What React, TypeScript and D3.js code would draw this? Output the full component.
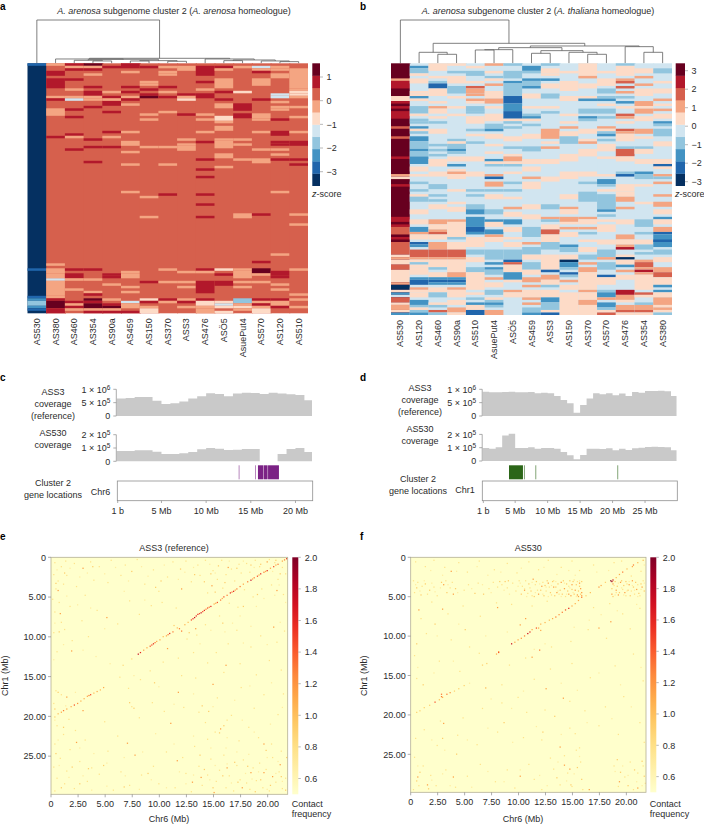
import { area, curveStepAfter, interpolateYlOrRd, range, scaleBand, scaleLinear, scaleSequential } from 'd3'

const font = '"Liberation Sans", Arial, sans-serif'
const ink = '#2b2b2b'
const axisGrey = '#8a8a8a'

// 10 step RdBu palette, index 0 is the darkest blue
const levels = ['#053061', '#2166ac', '#4393c3', '#92c5de', '#d1e5f0', '#fddbc7', '#f4a582', '#d6604d', '#b2182b', '#67001f']

const samplesA = ['AS530', 'AS380', 'AS460', 'AS354', 'AS90a', 'AS459', 'AS150', 'AS370', 'ASS3', 'AS476', 'ASÖ5', 'AsuePut4', 'AS570', 'AS120', 'AS510']
const samplesB = ['AS530', 'AS120', 'AS460', 'AS90a', 'AS510', 'AsuePut4', 'ASÖ5', 'AS459', 'ASS3', 'AS150', 'AS370', 'AS570', 'AS476', 'AS354', 'AS380']

const ROWS = 100

// [first row, row count, level] on top of the column base level
const baseA = [0, 7, 7, 7, 7, 7, 7, 7, 7, 7, 7, 7, 7, 7, 7]
const heatA: number[][][] = [
  [[0, 1, 1], [82, 1, 1], [93, 1, 1], [94, 1, 2], [95, 2, 3], [97, 1, 2], [98, 1, 1]],
  [[0, 1, 6], [3, 2, 8], [6, 4, 8], [13, 1, 6], [14, 1, 8], [18, 3, 6], [29, 1, 8], [80, 1, 6], [82, 2, 6], [84, 2, 6], [86, 1, 4], [87, 6, 6], [93, 1, 6], [94, 1, 8], [95, 3, 9], [98, 2, 8]],
  [[0, 1, 8], [1, 1, 6], [2, 1, 8], [6, 1, 8], [10, 1, 6], [13, 1, 6], [14, 1, 4], [18, 1, 8], [21, 1, 8], [28, 1, 8], [29, 1, 6], [34, 1, 8], [82, 1, 8], [84, 2, 8], [86, 1, 6], [90, 1, 6], [95, 1, 8], [96, 1, 6], [97, 1, 8], [98, 1, 6]],
  [[0, 1, 9], [1, 1, 6], [2, 1, 8], [4, 1, 6], [9, 1, 8], [11, 2, 8], [13, 1, 6], [14, 1, 6], [17, 1, 8], [30, 1, 8], [33, 1, 8], [39, 1, 8], [82, 1, 8], [86, 1, 6], [91, 1, 6], [92, 1, 8], [94, 1, 9], [95, 1, 8], [96, 2, 9], [98, 1, 6], [99, 1, 8]],
  [[1, 1, 8], [11, 1, 6], [13, 1, 8], [15, 2, 8], [14, 1, 6], [19, 1, 8], [27, 1, 8], [29, 1, 6], [33, 1, 8], [84, 1, 8], [85, 1, 8], [88, 1, 6], [94, 1, 6], [96, 1, 8], [97, 1, 9], [98, 1, 6], [99, 1, 8]],
  [[0, 2, 8], [3, 1, 6], [9, 1, 8], [11, 1, 8], [13, 1, 6], [14, 1, 8], [16, 1, 6], [27, 1, 6], [31, 2, 6], [35, 1, 6], [40, 1, 6], [51, 1, 6], [83, 1, 6], [84, 2, 6], [89, 1, 6], [91, 1, 6], [95, 1, 4], [96, 2, 6], [99, 1, 8]],
  [[1, 1, 8], [7, 1, 6], [8, 1, 6], [10, 1, 8], [12, 1, 8], [13, 1, 9], [20, 1, 6], [22, 1, 6], [33, 1, 6], [53, 1, 6], [61, 1, 6], [87, 1, 8], [94, 1, 5], [95, 1, 8], [97, 1, 6], [98, 2, 5]],
  [[1, 1, 6], [3, 1, 6], [4, 1, 6], [9, 1, 8], [11, 1, 6], [13, 1, 8], [19, 1, 6], [33, 1, 6], [40, 1, 6], [52, 1, 8], [82, 1, 6], [87, 1, 6], [94, 1, 8], [95, 1, 6]],
  [[1, 2, 6], [12, 1, 8], [13, 1, 6], [14, 1, 5], [20, 1, 8], [30, 1, 6], [32, 1, 6], [33, 2, 6], [83, 1, 6], [87, 1, 6], [89, 1, 6], [94, 1, 6], [95, 1, 8], [97, 1, 6]],
  [[1, 4, 8], [7, 1, 8], [10, 1, 6], [12, 2, 8], [20, 1, 6], [22, 1, 6], [27, 1, 6], [31, 1, 8], [38, 1, 8], [42, 1, 8], [45, 1, 8], [52, 1, 8], [56, 1, 8], [61, 1, 8], [82, 1, 8], [83, 1, 6], [87, 5, 8], [94, 1, 8], [95, 2, 5], [97, 1, 6], [98, 2, 6]],
  [[1, 1, 8], [2, 1, 6], [6, 4, 6], [11, 1, 8], [14, 1, 8], [16, 2, 6], [21, 2, 5], [23, 1, 6], [25, 2, 6], [30, 1, 6], [31, 3, 6], [36, 2, 6], [41, 1, 6], [82, 1, 5], [84, 1, 8], [87, 2, 8], [95, 1, 5], [96, 1, 4], [97, 1, 5], [99, 1, 5]],
  [[1, 1, 6], [11, 1, 5], [16, 3, 8], [20, 2, 8], [30, 1, 6], [32, 1, 6], [38, 1, 6], [60, 2, 6], [82, 1, 6], [83, 3, 6], [87, 1, 6], [89, 1, 6], [94, 2, 3], [96, 1, 6], [97, 1, 5], [98, 1, 6]],
  [[1, 1, 4], [2, 1, 6], [3, 1, 8], [6, 3, 6], [14, 1, 8], [20, 2, 6], [22, 1, 6], [27, 1, 6], [34, 1, 6], [38, 2, 6], [60, 1, 8], [79, 1, 8], [82, 2, 9], [84, 1, 6], [87, 1, 6], [94, 1, 8], [95, 1, 6], [96, 1, 8], [97, 1, 6], [98, 2, 5]],
  [[1, 1, 6], [2, 1, 6], [4, 2, 6], [12, 1, 4], [13, 1, 4], [15, 1, 6], [17, 1, 6], [18, 1, 6], [22, 1, 8], [27, 2, 8], [31, 1, 8], [32, 1, 8], [34, 1, 6], [36, 1, 6], [38, 1, 8], [51, 1, 6], [76, 1, 6], [83, 2, 8], [85, 1, 8], [88, 1, 6], [90, 1, 6], [94, 1, 8], [95, 2, 6], [97, 1, 8]],
  [[2, 8, 6], [10, 1, 6], [11, 1, 5], [12, 1, 5], [13, 1, 6], [17, 1, 6], [21, 1, 6], [27, 1, 6], [31, 2, 8], [38, 1, 8], [40, 1, 8], [60, 1, 6], [64, 1, 6], [82, 1, 6], [92, 1, 6], [94, 1, 6], [97, 1, 6]],
]

const baseB = [9, 4, 4, 4, 4, 4, 4, 4, 4, 4, 4, 4, 4, 4, 4]
const heatB: number[][][] = [
  [[6, 1, 6], [7, 3, 8], [13, 2, 5], [15, 1, 8], [17, 1, 8], [19, 3, 8], [25, 1, 7], [29, 1, 7], [37, 1, 8], [44, 1, 6], [45, 1, 5], [48, 1, 8], [61, 2, 8], [64, 1, 8], [65, 3, 7], [69, 1, 8], [71, 5, 7], [76, 1, 5], [77, 1, 6], [78, 2, 5], [80, 2, 7], [82, 5, 5], [87, 1, 6], [88, 2, 0], [90, 1, 5], [91, 1, 2], [92, 1, 4], [93, 2, 7], [95, 1, 5], [96, 2, 6], [98, 1, 5], [99, 1, 2]],
  [[1, 1, 2], [2, 2, 3], [4, 1, 5], [6, 2, 5], [11, 1, 5], [12, 1, 5], [13, 1, 2], [14, 1, 5], [17, 3, 3], [20, 1, 5], [22, 1, 3], [23, 1, 3], [25, 1, 2], [26, 1, 5], [27, 1, 3], [29, 2, 2], [31, 3, 3], [34, 1, 2], [35, 2, 3], [37, 3, 2], [41, 2, 5], [44, 1, 5], [47, 1, 3], [50, 1, 3], [52, 1, 5], [53, 2, 3], [58, 2, 5], [62, 2, 5], [65, 2, 2], [67, 1, 6], [68, 2, 5], [71, 1, 1], [72, 1, 2], [74, 3, 7], [77, 1, 6], [78, 1, 5], [79, 1, 3], [80, 1, 5], [81, 3, 5], [85, 1, 2], [86, 2, 1], [89, 1, 6], [90, 1, 5], [91, 2, 5], [94, 2, 2], [96, 1, 3], [97, 1, 5], [98, 1, 3], [99, 1, 2]],
  [[0, 3, 5], [5, 1, 5], [7, 1, 3], [8, 2, 1], [10, 3, 5], [15, 1, 5], [17, 1, 6], [18, 2, 5], [21, 1, 5], [23, 1, 3], [26, 2, 5], [32, 1, 3], [34, 1, 3], [36, 1, 3], [38, 3, 5], [43, 2, 5], [48, 2, 3], [52, 1, 3], [54, 1, 3], [56, 2, 5], [62, 2, 6], [64, 2, 5], [66, 1, 6], [67, 1, 7], [68, 2, 5], [71, 3, 6], [74, 3, 7], [77, 1, 6], [78, 3, 5], [81, 1, 3], [83, 2, 5], [85, 1, 2], [86, 1, 1], [87, 1, 2], [89, 2, 5], [91, 2, 3], [95, 1, 5], [96, 1, 3], [98, 1, 7], [99, 1, 3]],
  [[0, 1, 5], [3, 1, 3], [5, 3, 5], [9, 3, 3], [13, 1, 5], [17, 1, 5], [20, 1, 5], [30, 1, 3], [31, 1, 5], [32, 2, 3], [34, 1, 2], [35, 1, 3], [37, 2, 5], [40, 1, 2], [42, 1, 5], [43, 1, 6], [44, 2, 5], [50, 1, 5], [55, 1, 5], [57, 2, 5], [62, 1, 6], [63, 6, 5], [69, 1, 3], [71, 3, 5], [74, 3, 7], [77, 1, 6], [78, 5, 5], [83, 2, 6], [85, 1, 2], [86, 1, 1], [87, 1, 2], [89, 1, 6], [90, 3, 5], [94, 2, 5], [97, 2, 6], [99, 1, 5]],
  [[1, 1, 5], [3, 2, 3], [7, 1, 5], [9, 1, 7], [10, 2, 6], [12, 1, 6], [14, 1, 6], [15, 1, 5], [17, 2, 3], [19, 1, 3], [21, 3, 5], [26, 1, 3], [28, 1, 5], [31, 1, 3], [37, 2, 5], [43, 2, 5], [50, 1, 3], [52, 1, 3], [56, 2, 3], [58, 2, 2], [61, 4, 2], [65, 2, 1], [67, 1, 2], [69, 4, 5], [74, 2, 3], [77, 2, 5], [81, 2, 3], [83, 7, 5], [91, 1, 5], [93, 1, 3], [95, 1, 2], [96, 2, 5], [98, 2, 1]],
  [[0, 1, 6], [3, 1, 5], [5, 1, 3], [6, 1, 5], [8, 1, 6], [11, 3, 5], [14, 2, 6], [17, 1, 5], [20, 3, 5], [24, 2, 3], [26, 1, 2], [28, 2, 5], [32, 1, 5], [35, 1, 5], [38, 1, 2], [39, 1, 5], [40, 1, 3], [44, 1, 6], [45, 1, 1], [47, 2, 6], [50, 1, 3], [52, 2, 5], [58, 2, 3], [62, 1, 2], [63, 2, 5], [66, 2, 2], [68, 1, 6], [69, 2, 5], [74, 4, 3], [79, 1, 2], [81, 1, 2], [82, 2, 3], [85, 1, 6], [87, 2, 5], [90, 2, 3], [93, 1, 5], [94, 1, 3], [95, 1, 2], [96, 1, 3], [98, 2, 6]],
  [[0, 1, 3], [3, 3, 3], [7, 1, 2], [8, 3, 3], [11, 2, 3], [13, 3, 1], [16, 3, 2], [19, 3, 1], [22, 1, 5], [23, 1, 3], [25, 1, 3], [29, 2, 5], [33, 1, 3], [36, 1, 5], [37, 2, 6], [39, 1, 5], [40, 1, 3], [43, 1, 5], [47, 1, 3], [50, 1, 3], [53, 1, 5], [57, 1, 6], [59, 2, 5], [62, 2, 2], [65, 2, 5], [69, 1, 5], [71, 2, 5], [74, 4, 3], [78, 1, 1], [79, 1, 7], [80, 3, 5], [83, 3, 2], [86, 1, 5], [90, 1, 6], [91, 2, 5]],
  [[1, 2, 2], [3, 1, 3], [6, 1, 2], [7, 2, 3], [9, 1, 2], [12, 2, 5], [17, 1, 5], [20, 1, 3], [21, 1, 2], [22, 1, 5], [24, 1, 3], [28, 2, 5], [33, 2, 3], [38, 2, 5], [41, 2, 5], [45, 1, 6], [47, 3, 5], [56, 2, 5], [60, 2, 5], [65, 4, 3], [71, 1, 6], [73, 3, 3], [76, 2, 5], [79, 3, 3], [82, 2, 5], [85, 2, 6], [88, 1, 6], [90, 3, 5], [93, 1, 6], [95, 1, 6], [97, 2, 3], [99, 1, 2]],
  [[0, 1, 3], [2, 2, 5], [4, 1, 5], [6, 1, 2], [8, 2, 5], [12, 2, 3], [17, 1, 5], [19, 1, 3], [26, 4, 6], [31, 1, 5], [33, 1, 6], [38, 2, 5], [45, 2, 5], [56, 2, 3], [61, 1, 6], [62, 1, 3], [64, 2, 5], [66, 2, 7], [68, 3, 5], [71, 3, 3], [76, 6, 5], [82, 1, 1], [84, 2, 6], [86, 2, 5], [88, 1, 3], [90, 3, 5], [93, 2, 2], [95, 3, 3], [98, 1, 5], [99, 1, 1]],
  [[3, 1, 5], [7, 4, 5], [13, 2, 5], [20, 1, 5], [23, 1, 5], [25, 1, 6], [27, 2, 5], [29, 3, 3], [36, 3, 5], [43, 3, 5], [52, 2, 5], [57, 1, 6], [58, 2, 5], [61, 2, 6], [63, 1, 5], [65, 1, 6], [67, 2, 5], [72, 1, 2], [73, 2, 3], [76, 2, 5], [78, 1, 0], [79, 2, 2], [81, 1, 3], [83, 1, 1], [84, 1, 3], [86, 1, 6], [88, 2, 5], [91, 9, 5]],
  [[0, 5, 5], [5, 1, 6], [8, 2, 5], [13, 1, 5], [14, 1, 2], [18, 2, 3], [21, 1, 2], [22, 1, 3], [26, 2, 5], [30, 1, 5], [31, 1, 6], [34, 3, 5], [43, 2, 5], [47, 1, 3], [51, 4, 3], [61, 1, 6], [62, 2, 5], [65, 1, 6], [67, 1, 3], [70, 1, 5], [73, 2, 5], [76, 2, 3], [79, 1, 6], [81, 2, 6], [83, 7, 5], [90, 1, 6], [91, 3, 5], [94, 2, 6], [96, 4, 5]],
  [[3, 1, 5], [6, 3, 5], [10, 2, 3], [13, 1, 3], [14, 1, 2], [16, 1, 5], [18, 2, 3], [21, 1, 3], [25, 1, 6], [26, 1, 5], [27, 1, 3], [28, 1, 2], [30, 1, 3], [32, 3, 5], [37, 1, 5], [44, 1, 5], [46, 2, 2], [48, 1, 3], [50, 1, 5], [52, 6, 3], [58, 1, 2], [60, 1, 3], [62, 1, 5], [64, 3, 5], [70, 2, 5], [74, 3, 3], [77, 1, 6], [79, 3, 3], [84, 1, 1], [85, 3, 5], [90, 1, 3], [91, 2, 2], [93, 1, 6], [95, 2, 2], [97, 1, 3], [98, 1, 5], [99, 1, 7]],
  [[0, 1, 3], [1, 4, 5], [6, 1, 6], [7, 1, 7], [9, 1, 7], [11, 1, 6], [13, 1, 3], [15, 1, 2], [17, 1, 5], [20, 1, 7], [21, 1, 6], [23, 1, 5], [26, 1, 7], [27, 1, 6], [28, 3, 5], [33, 1, 3], [34, 3, 7], [37, 2, 5], [43, 1, 3], [44, 1, 1], [48, 3, 5], [51, 2, 5], [53, 2, 6], [57, 1, 6], [62, 2, 5], [68, 2, 6], [70, 2, 5], [72, 1, 6], [73, 1, 8], [76, 1, 5], [77, 1, 0], [78, 2, 5], [80, 1, 2], [82, 1, 6], [84, 2, 5], [90, 2, 8], [92, 2, 6], [94, 1, 5], [96, 2, 6], [98, 1, 7], [99, 1, 5]],
  [[2, 2, 5], [5, 1, 6], [8, 1, 6], [10, 3, 5], [15, 2, 6], [17, 1, 5], [18, 2, 6], [21, 2, 5], [26, 2, 6], [29, 1, 5], [33, 1, 3], [34, 2, 5], [38, 2, 5], [43, 1, 2], [44, 2, 3], [48, 1, 5], [55, 1, 5], [62, 3, 3], [67, 1, 3], [70, 2, 5], [72, 2, 3], [75, 1, 3], [78, 1, 6], [79, 2, 7], [81, 1, 6], [82, 1, 8], [83, 1, 6], [84, 6, 5], [91, 1, 7], [92, 1, 5], [95, 1, 3], [96, 2, 6], [98, 1, 7], [99, 1, 5]],
  [[2, 2, 3], [7, 1, 5], [10, 2, 5], [14, 1, 6], [16, 1, 5], [18, 1, 6], [20, 2, 5], [23, 1, 2], [24, 1, 3], [26, 3, 3], [31, 2, 5], [38, 3, 5], [40, 1, 1], [41, 1, 5], [44, 1, 6], [45, 1, 3], [47, 1, 6], [52, 1, 6], [55, 2, 6], [58, 2, 5], [61, 1, 2], [62, 2, 5], [65, 2, 6], [67, 1, 1], [68, 3, 2], [70, 1, 1], [71, 2, 2], [74, 2, 3], [77, 2, 5], [81, 2, 6], [83, 2, 7], [85, 3, 5], [88, 1, 2], [90, 1, 2], [91, 2, 5], [93, 3, 6], [96, 1, 5], [97, 1, 6], [98, 1, 5], [99, 1, 3]],
]

// dendrograms: [merge height, left, right], a bare number is a column
type Node = number | [number, Node, Node]
const dendA: Node = [130, 0, [15, [13, 1, [12, [9, 2, [7, 3, 4]], [8, [7, 5, 6], [6, 7, 8]]]], [13, 9, [10, [8, 10, 11], [7, 12, [5, 13, 14]]]]]]
const dendB: Node = [130, 0, [60, [33, 1, [27, 2, 3]], [52, [47, [41, [40, 4, 5], 6], [38, [30, 7, 8], [33, 9, [27, 10, 11]]]], [50, 12, [33, 13, 14]]]]]

const ticksA = [1, 0, -1, -2, -3]
const ticksB = [3, 2, 1, 0, -1, -2, -3]

// coverage per 1 Mb bin, in units of the lower y tick step
const coverageRefC = [0.66, 0.675, 0.71, 0.71, 0.575, 0.45, 0.475, 0.54, 0.66, 0.74, 0.85, 0.825, 0.74, 0.84, 0.875, 0.86, 0.825, 0.875, 0.84, 0.81, 0.79, 0.59]
const coverage530C = [0.775, 0.775, 0.825, 0.825, 0.725, 0.55, 0.55, 0.6, 0.7, 0.9, 1.0, 0.95, 0.85, 0.875, 0.925, 0.925, 0, 0, 0.55, 0.925, 1.0, 0.7]
const coverageRefD = [0.91, 0.89, 0.89, 0.9, 0.91, 0.89, 0.89, 0.9, 0.85, 0.875, 0.85, 0.75, 0.6, 0.475, 0.125, 0.41, 0.66, 0.85, 0.81, 0.85, 0.775, 0.84, 0.75, 0.9, 0.875, 0.94, 0.94, 0.95, 0.925, 0.75]
const coverage530D = [0.975, 0.925, 1.025, 1.925, 2.05, 0.975, 0.975, 1.025, 0.925, 0.975, 0.975, 0.925, 0.675, 0.425, 0.125, 0.45, 0.925, 0.925, 0.9, 0.95, 0.8, 0.925, 0.825, 0.95, 1.0, 1.05, 1.075, 1.05, 1.025, 0.8]

// gene blocks [start Mb, end Mb]
const genesC = [[13.64, 13.74], [15.47, 15.57], [15.8, 16.42], [16.47, 16.88], [16.93, 18.15]]
const genesD = [[4.05, 6.2], [6.35, 6.5], [8.1, 8.25], [20.72, 20.87]]

const mbTicksC = [[0.1, '1 b'], [5, '5 Mb'], [10, '10 Mb'], [15, '15 Mb'], [20, '20 Mb']] as [number, string][]
const mbTicksD = [[0.1, '1 b'], [5, '5 Mb'], [10, '10 Mb'], [15, '15 Mb'], [20, '20 Mb'], [25, '25 Mb']] as [number, string][]

const contactXTicks = [0, 2.5, 5, 7.5, 10, 12.5, 15, 17.5, 20]
const contactYTicks = [0, 5, 10, 15, 20, 25]
const contactBarTicks = [2.0, 1.8, 1.6, 1.4, 1.2, 1.0, 0.8, 0.6]

// contact map e, triples of chr6 Mb, chr1 Mb, frequency
const diagE = [21.7, 0.1, 1.6, 21.5, 0.25, 1.3, 21.3, 0.4, 1.1, 20.9, 0.8, 1.3, 20.7, 0.9, 1.1, 20.5, 1.1, 1.45, 20.2, 1.3, 1.1, 19.9, 1.6, 1.6, 19.75, 1.7, 1.1, 19.6, 1.8, 1.3, 19.3, 2.0, 1.6, 19.15, 2.15, 1.1, 19.0, 2.3, 1.45, 18.7, 2.5, 1.3, 18.55, 2.65, 1.1, 18.4, 2.8, 1.75, 18.1, 3.0, 1.3, 17.7, 3.3, 1.1, 17.4, 3.6, 1.3, 17.1, 3.9, 1.3, 16.95, 4.05, 1.1, 16.8, 4.2, 1.6, 16.65, 4.3, 1.3, 16.5, 4.4, 1.6, 16.2, 4.7, 1.3, 15.9, 4.9, 1.45, 15.75, 5.1, 1.1, 15.6, 5.3, 1.3, 15.3, 5.6, 1.45, 15.15, 5.7, 1.1, 15.0, 5.8, 1.1, 14.7, 6.1, 1.6, 14.55, 6.2, 1.3, 14.4, 6.3, 1.45, 14.25, 6.45, 1.3, 14.1, 6.6, 1.6, 13.95, 6.75, 1.45, 13.8, 6.9, 1.75, 13.65, 7.0, 1.45, 13.5, 7.1, 1.6, 13.35, 7.3, 1.6, 13.2, 7.5, 1.75, 13.05, 7.65, 1.6, 12.9, 7.8, 1.45, 12.6, 8.1, 1.0, 12.3, 8.4, 1.05,
  11.2, 9.3, 1.3, 10.9, 9.5, 1.6, 10.75, 9.65, 1.3, 10.6, 9.8, 1.1, 10.3, 9.9, 1.0, 10.0, 10.3, 1.1, 9.7, 10.5, 1.1, 9.55, 10.65, 1.3, 9.4, 10.8, 1.6, 9.25, 10.95, 1.45, 9.1, 11.1, 1.45, 8.8, 11.3, 1.1, 8.5, 11.6, 1.1, 8.2, 11.9, 1.6, 8.0, 12.1, 1.75, 11.8, 8.9, 1.3, 12.0, 9.2, 1.3, 11.6, 8.8, 1.0, 7.4, 12.7, 0.85, 6.6, 13.5, 0.85,
  4.8, 16.3, 1.1, 4.5, 16.6, 1.0, 4.2, 16.8, 1.1, 3.9, 17.0, 1.0, 3.6, 17.2, 1.45, 3.45, 17.3, 1.3, 3.3, 17.4, 1.1, 3.0, 17.7, 1.05, 2.7, 18.0, 1.05, 2.4, 18.3, 1.2, 2.1, 18.5, 1.45, 1.8, 18.7, 1.05, 1.4, 19.0, 1.1, 1.1, 19.2, 1.3, 0.9, 19.4, 1.1, 0.6, 19.6, 1.0, 0.3, 20.0, 0.9]
const speckDarkE = [2.9, 1.3, 0.6, 4.1, 0.8, 7, 1.85, 11.7, 5.1, 7.5, 12, 3.9, 10.7, 11.4, 14.9, 15.9, 11.7, 16.9, 11, 20.8, 2.3, 23.2, 7, 23.3, 7.7, 24.8, 11.6, 25.5, 15.6, 21.5, 16.2, 26.4, 19.6, 23.4, 21.1, 26, 13, 28.2, 13.8, 27.6, 17.6, 28.9, 19.6, 27, 20.4, 27.5, 18.4, 27, 15, 29.5, 20.5, 8.7, 20.8, 4.1, 13.3, 8.9, 16.1, 13.5, 1.4, 17.5, 2.9, 19.2, 19.9, 0.5, 16.3, 1.2, 14.8, 3.5]
const speckMidE = [1.2, 1.9, 0.4, 3.2, 3.8, 1.1, 0.7, 9.3, 7.4, 1.7, 10.1, 2.9, 11.9, 1.4, 13.2, 2.1, 14.1, 3.0, 15.4, 1.0, 16.0, 3.1, 17.1, 1.3, 18.4, 0.9, 19.3, 0.8, 20.7, 0.3, 21.1, 2.0, 19.0, 4.6, 17.7, 6.1, 15.8, 8.2, 12.7, 9.4, 11.3, 8.5, 9.6, 3.7, 14.7, 2.0, 15.1, 4.3, 0.6, 16.9, 0.3, 19.0, 1.1, 21.3, 0.4, 24.6, 1.9, 26.3, 3.4, 26.5, 0.9, 28.9, 2.6, 28.4, 4.8, 26.1, 6.7, 28.8, 8.9, 27.1, 13.7, 24.8, 14.1, 26.6, 14.9, 28.9, 15.8, 27.4, 16.9, 25.7, 17.2, 28.2, 18.1, 26.2, 18.8, 29.4, 19.3, 27.9, 20.2, 28.6, 21.2, 27.5, 21.6, 29.2, 21.7, 25.1, 19.8, 24.2, 15.5, 22.0, 15.9, 21.1, 14.5, 19.3, 13.9, 18.6, 7.2, 18.2, 7.6, 18.9, 9.5, 15.7]
const speckLightE = [0.3, 0.6, 0.9, 1.1, 0.2, 2.1, 1.3, 0.4, 0.6, 2.9, 1.1, 3.3, 0.4, 3.9, 0.1, 5.2, 0.7, 5.6, 1.4, 2.2, 2.1, 0.7, 3.6, 0.5, 4.4, 1.1, 0.3, 6.8, 0.9, 8.1, 0.2, 9.4, 1.2, 9.0, 1.7, 6.1, 2.3, 3.6, 3.1, 4.7, 3.9, 2.8, 5.5, 0.3, 6.8, 0.9, 7.9, 0.2, 5.2, 3.1, 6.4, 2.2, 4.2, 6.6, 2.8, 7.9, 1.9, 10.4, 0.5, 11.8, 3.4, 9.9, 6.1, 8.3, 7.2, 5.4, 8.6, 3.3, 9.4, 1.5, 9.9, 4.2, 8.1, 7.1, 9.2, 6.0, 10.7, 2.4, 11.2, 0.5, 10.2, 5.6, 11.5, 6.3, 12.4, 0.4, 12.9, 3.0, 13.5, 0.9, 13.7, 2.2, 14.2, 0.3, 14.4, 4.4, 14.9, 1.6, 15.3, 2.7, 15.7, 0.3, 15.8, 3.8, 16.1, 2.1, 16.6, 1.4, 16.9, 2.9, 17.3, 0.8, 17.5, 1.9, 18.0, 0.7, 18.3, 1.8, 18.8, 0.3, 19.2, 1.1, 20.1, 0.2, 20.6, 0.6, 21.3, 1.2, 21.6, 2.0, 20.9, 2.7, 21.4, 4.6, 20.3, 3.4, 19.4, 3.9, 18.6, 4.9, 17.8, 4.0, 17.2, 6.2, 16.4, 5.7, 15.5, 7.3, 14.2, 8.4, 13.4, 9.7, 12.5, 10.2, 13.1, 11.9, 11.7, 12.6, 10.3, 13.1, 9.1, 14.2, 8.2, 15.3, 7.1, 16.4, 6.3, 15.0,
  21.5, 9.2, 20.8, 10.6, 19.3, 9.8, 18.4, 11.2, 17.1, 9.1, 16.3, 10.8, 15.2, 11.9, 20.1, 12.9, 21.2, 14.1, 18.9, 14.7, 17.4, 13.3, 15.9, 14.4, 14.4, 13.2, 13.3, 15.1, 12.0, 14.8,
  0.4, 16.7, 0.9, 17.2, 0.2, 18.3, 1.6, 20.3, 0.5, 21.1, 1.1, 22.2, 0.3, 23.4, 2.2, 21.7, 3.1, 22.9, 1.7, 24.1, 0.8, 25.2, 0.2, 26.3, 1.4, 26.8, 2.6, 25.6, 3.7, 26.4, 0.5, 27.7, 1.2, 28.4, 2.1, 29.0, 0.3, 29.3, 3.3, 28.1, 4.4, 27.2, 5.2, 24.3, 6.1, 22.4, 4.9, 20.6, 7.4, 18.7, 8.1, 20.1, 9.3, 18.2, 10.4, 19.3, 12.2, 18.8, 13.6, 19.4, 14.2, 20.7, 15.1, 21.9, 16.2, 20.4, 14.4, 22.8, 13.2, 23.7, 12.1, 25.1, 10.6, 24.4, 9.4, 26.2, 8.3, 27.3, 7.2, 28.6, 6.4, 26.9, 5.7, 29.2, 9.9, 28.4,
  11.4, 28.9, 12.4, 27.1, 12.9, 29.4, 13.6, 26.2, 13.9, 28.6, 14.4, 27.3, 14.7, 25.3, 15.2, 28.1, 15.5, 26.7, 15.9, 24.8, 16.1, 28.9, 16.4, 27.4, 16.8, 29.3, 17.1, 26.1, 17.4, 27.9, 17.7, 25.4, 18.0, 28.3, 18.3, 29.1, 18.6, 26.4, 18.9, 28.0, 19.2, 25.8, 19.5, 28.9, 19.8, 26.6, 20.1, 29.3, 20.4, 25.1, 20.7, 28.2, 21.0, 26.9, 21.3, 29.0, 21.6, 27.7, 21.2, 24.3, 20.3, 23.4, 19.1, 22.6, 18.2, 21.3, 17.3, 23.0, 16.6, 19.8, 18.7, 18.9, 20.9, 19.7, 19.6, 17.2, 21.4, 17.1, 17.5, 16.3, 15.3, 17.6]
const speckFaintE = [0.5, 1.5, 1.7, 1.3, 2.6, 2.4, 3.3, 1.9, 4.9, 2.0, 5.9, 1.2, 7.1, 2.9, 8.3, 1.1, 8.9, 2.3, 10.4, 0.9, 11.7, 2.7, 12.3, 1.8, 13.1, 1.2, 14.6, 0.8, 15.1, 1.9, 16.4, 0.4, 17.7, 0.4, 18.7, 1.2, 20.4, 1.7, 21.0, 3.4, 20.6, 4.7, 21.6, 5.6, 19.6, 5.1, 18.9, 6.1, 17.4, 7.3, 16.7, 8.2, 18.4, 8.6, 21.1, 8.1, 19.9, 10.9, 17.7, 10.7, 16.0, 9.3, 14.7, 9.1, 13.7, 10.8, 1.4, 4.8, 0.3, 8.2, 2.4, 5.9, 3.6, 6.3, 4.9, 8.9, 6.7, 4.2, 8.6, 5.3, 1.1, 10.9, 0.2, 12.8, 2.9, 11.6, 4.1, 12.4, 5.4, 13.3, 7.6, 14.8, 9.9, 16.2, 11.3, 18.4, 13.1, 17.1, 14.9, 18.7, 16.9, 17.9, 18.3, 16.1, 20.3, 15.7, 21.3, 18.8, 20.2, 20.9, 18.7, 21.9, 17.6, 20.4, 16.2, 22.6, 14.7, 23.9, 13.1, 22.4, 11.3, 23.4, 9.6, 22.1, 8.4, 24.4, 6.7, 25.1, 5.1, 25.8, 3.9, 24.6, 2.6, 23.9, 0.6, 22.9, 0.3, 20.4, 1.3, 18.6, 2.2, 16.9, 0.7, 26.1, 1.6, 27.6, 2.9, 27.4, 3.7, 29.2, 5.1, 28.7, 6.8, 27.4, 8.1, 29.1, 9.2, 27.9, 10.6, 28.9, 11.8, 26.9, 12.4, 28.4, 13.1, 27.3, 14.6, 27.9, 15.1, 26.1, 16.2, 25.9, 16.6, 28.3, 17.9, 27.1, 18.5, 27.8, 19.1, 26.9, 19.9, 29.1, 20.7, 27.1, 21.3, 28.1, 20.9, 25.6, 19.9, 25.1, 18.2, 24.7, 17.1, 24.4, 16.1, 23.9]

// contact map f, same layout
const diagF = [9.3, 10.9, 1.75, 9.6, 10.7, 1.1, 9.9, 10.4, 1.1, 10.2, 10.2, 1.2, 10.5, 9.9, 1.3, 10.8, 9.6, 1.75, 11.0, 9.4, 1.6, 11.2, 9.1, 1.1, 11.6, 8.9, 1.45, 12, 8.4, 1.05, 12.4, 8.2, 1.05, 12.8, 7.9, 1.0, 13.1, 7.7, 1.1, 13.4, 7.5, 1.3, 13.7, 7.2, 1.2, 14.0, 6.9, 1.3, 14.3, 6.6, 1.45, 14.6, 6.4, 1.6, 14.9, 6.1, 1.1, 15.2, 5.8, 1.05, 15.5, 5.4, 1.1, 15.8, 5.0, 1.3, 8.1, 12.0, 1.45, 7.9, 12.2, 1.1, 7, 13.4, 0.9, 6.6, 13.6, 0.9,
  4.9, 16.2, 0.9, 4.4, 16.6, 0.9, 4.0, 16.9, 0.9, 3.6, 17.1, 1.2, 3.3, 17.3, 1.3, 2.9, 17.7, 1.05, 2.8, 17.3, 1.3, 2.8, 17.6, 1.3, 2.6, 18.0, 1.0, 2.2, 18.3, 1.45, 1.7, 18.7, 0.9, 1.2, 19.0, 0.9, 0.8, 19.4, 0.9, 0.5, 19.6, 0.9, 6.9, 16.5, 1.05,
  16.2, 4.8, 0.9, 16.6, 4.4, 1.0, 17.4, 3.7, 1.2, 17.6, 3.5, 1.1, 18.0, 3.1, 0.9, 18.5, 2.9, 2.0, 18.6, 3, 1.9, 18.7, 2.8, 1.75, 19, 2.5, 1.0, 19.3, 2.1, 1.1, 19.6, 1.8, 1.3, 20, 1.4, 1.0, 20.5, 1.1, 1.1, 20.6, 0.9, 1.3, 21, 0.6, 1.0, 21.5, 0.3, 1.0, 12, 9.2, 1.1, 11.8, 8.9, 1.1, 11.9, 11.7, 1.3]
const speckDarkF = [13.2, 3.7, 13.5, 4.4, 13.9, 3.1, 14.2, 3.9, 14.6, 4.6, 14.9, 3.4, 15.2, 4.1, 15.4, 4.7, 15.6, 3.2, 15.7, 3.9, 15.8, 4.4, 15.8, 4.8, 15.5, 4.9, 14.8, 4.8, 12.1, 3.6, 11.3, 2.7, 10.5, 4.1, 11.8, 4.6, 12.7, 3.2, 18.7, 3.3, 19.0, 4.1, 19.4, 3.1, 19.8, 4.4, 20.2, 3.4, 20.5, 2.9, 20.9, 4.0, 21.4, 3.7, 19.2, 4.7, 18.6, 4.6, 3.7, 1.7, 3.0, 3.4, 3.9, 4.6, 0.7, 6.6, 2.9, 6.5, 8, 6.3, 10.6, 7.7, 10.1, 8.5, 8.1, 11.9, 18.5, 8.1, 17.4, 8.9, 11.2, 12.6, 12.5, 16.6, 14.1, 17.8, 13.8, 24.0, 14.7, 26.8, 14.2, 26.3, 16.5, 29.4, 10.1, 27.7, 19.3, 28.4, 21, 29.2, 3.9, 27.8, 3, 21, 1.5, 28.8, 0.6, 27.8]
const speckMidF = [10.9, 3.3, 11.1, 4.2, 11.6, 3.0, 12.0, 4.1, 12.3, 4.8, 12.6, 2.9, 12.9, 4.4, 13.1, 3.0, 13.3, 4.8, 13.6, 3.3, 13.8, 4.1, 14.0, 4.6, 14.1, 2.9, 14.4, 3.3, 14.5, 4.2, 14.7, 2.9, 14.9, 4.0, 15.0, 3.0, 15.1, 4.6, 15.3, 3.4, 15.5, 4.2, 15.6, 3.6, 15.7, 4.6, 15.8, 3.0, 10.2, 4.6, 11.4, 4.9, 12.4, 3.5, 13.4, 3.7, 18.6, 3.9, 18.9, 3.0, 19.1, 3.6, 19.3, 4.4, 19.5, 2.9, 19.7, 3.5, 19.9, 3.0, 20.1, 4.1, 20.3, 4.8, 20.6, 3.7, 20.8, 3.1, 21.1, 4.5, 21.3, 3.3, 21.6, 4.2, 18.7, 4.9, 1.3, 3.3, 1.7, 4.1, 2.8, 3.1, 3.3, 4.4, 0.5, 3.8, 0.9, 4.7, 8.2, 3.0, 8.7, 3.0, 9.0, 2.9, 4.1, 3.9, 5.9, 4.5, 6.7, 4.6, 1.1, 16.1, 2.9, 22.9, 4.2, 24.9, 0.5, 28.3, 0.8, 27.2, 1.6, 29.3, 13.5, 27.9, 14.8, 28.8, 15.4, 26.6, 15.8, 28.1, 12.2, 22.1, 13.3, 20.1, 8.6, 20.9, 19.4, 27.2, 20.1, 28.9, 20.7, 26.9, 21.6, 27.7, 21.4, 25.8, 19.1, 25.6, 0.5, 10.9, 5, 9.1, 2.2, 8.4]
const speckLightF = [10.3, 3.6, 10.6, 2.9, 10.8, 4.5, 11.0, 3.8, 11.2, 4.8, 11.5, 3.4, 11.7, 4.1, 12.2, 3.1, 12.5, 4.2, 12.8, 3.7, 13.0, 4.7, 13.2, 2.9, 13.7, 4.6, 14.3, 4.9, 14.6, 3.6, 15.1, 2.8, 15.4, 3.0, 18.8, 3.5, 19.0, 4.4, 19.6, 4.0, 19.9, 4.8, 20.0, 3.3, 20.4, 4.2, 20.7, 4.6, 21.0, 3.4, 21.5, 2.9, 21.2, 4.8, 0.2, 2.9, 0.6, 3.1, 1.0, 3.6, 0.3, 4.4, 1.5, 4.6, 2.1, 3.7, 2.4, 4.8, 3.2, 2.9, 3.6, 3.8, 3.8, 3.1, 7.2, 3.9, 7.6, 3.1, 8.0, 3.7, 8.4, 3.4, 8.9, 3.8, 9.4, 3.2, 9.7, 4.2, 10.0, 2.9, 4.9, 4.1, 5.3, 3.4, 6.2, 3.2,
  0.4, 0.5, 1.3, 1.1, 2.1, 0.3, 3.1, 1.2, 4.4, 0.6, 5.2, 1.8, 6.3, 0.4, 7.7, 1.5, 8.9, 0.7, 9.8, 1.9, 10.9, 0.5, 11.8, 1.5, 12.7, 0.3, 13.9, 1.2, 14.9, 0.4, 15.6, 1.6, 16.9, 0.9, 18.8, 0.6, 19.5, 0.4, 20.4, 2.3, 21.3, 1.7, 0.9, 7.7, 1.9, 5.6, 3.4, 7.1, 4.8, 6.1, 6.4, 7.4, 7.9, 5.7, 9.3, 5.9, 11.2, 6.1, 12.6, 5.5, 16.9, 6.3, 18.4, 5.8, 19.6, 7.1, 21.2, 6.4, 20.3, 9.0, 18.1, 10.2, 16.4, 9.1, 14.8, 10.6, 13.0, 11.3, 10.6, 12.7, 9.1, 13.6, 5.4, 11.3, 3.7, 10.4, 1.4, 9.6, 0.3, 12.4, 2.6, 13.1, 4.5, 14.4, 6.3, 12.1, 0.5, 15.3, 8.4, 16.1, 9.9, 17.7, 11.4, 15.4, 12.9, 14.1, 14.9, 13.4, 16.6, 15.2, 18.9, 13.7, 20.6, 12.2, 21.5, 15.6, 19.7, 17.6, 18.0, 18.9, 16.1, 19.4, 14.7, 18.2, 12.4, 19.3, 10.7, 19.6, 8.4, 18.4, 6.6, 19.1, 4.8, 20.3, 2.7, 20.7, 1.2, 21.8, 0.4, 22.9, 2.4, 23.8, 4.3, 22.5, 6.1, 23.7, 8.0, 22.1, 10.4, 22.8, 12.1, 23.1, 14.7, 21.6, 15.2, 22.3, 15.6, 24.1, 17.4, 21.3, 19.2, 22.4, 21.2, 20.9, 21.6, 23.4,
  0.3, 25.3, 1.1, 26.4, 0.7, 28.9, 0.2, 29.4, 1.8, 27.6, 2.3, 28.9, 3.2, 26.9, 4.1, 29.1, 5.2, 27.7, 6.4, 26.2, 7.8, 28.4, 8.9, 26.9, 9.6, 29.2, 10.9, 26.2, 11.4, 28.1, 12.1, 29.4, 12.9, 25.4, 13.2, 26.8, 13.8, 28.8, 14.2, 25.1, 14.5, 27.3, 14.9, 29.0, 15.3, 24.4, 15.7, 25.9, 15.9, 29.4, 18.8, 26.4, 19.2, 29.0, 19.8, 27.8, 20.3, 25.9, 20.6, 29.4, 21.0, 27.3, 21.5, 26.4, 21.7, 28.6]
const speckFaintF = [10.1, 3.2, 10.5, 3.9, 10.7, 4.9, 11.2, 3.1, 11.5, 4.4, 11.9, 3.3, 12.2, 4.6, 12.5, 3.7, 12.7, 4.9, 13.0, 3.5, 13.4, 3.0, 13.6, 4.2, 13.9, 4.9, 14.2, 3.2, 14.4, 4.6, 14.7, 3.8, 15.0, 4.4, 15.3, 4.9, 15.6, 2.9, 18.7, 3.0, 18.9, 4.7, 19.2, 3.2, 19.5, 3.8, 19.7, 4.7, 20.0, 4.2, 20.2, 3.0, 20.5, 3.5, 20.7, 4.1, 21.0, 4.9, 21.3, 4.0, 21.6, 3.2, 0.4, 3.4, 0.8, 4.2, 1.2, 2.9, 1.9, 3.2, 2.2, 4.3, 2.7, 3.8, 3.4, 3.4, 4.3, 4.4, 5.6, 3.9, 6.6, 3.4, 7.4, 4.4, 8.6, 4.1, 9.1, 4.6, 9.9, 3.6,
  1.8, 1.6, 2.9, 2.2, 4.2, 1.7, 6.1, 1.1, 7.1, 2.2, 8.3, 1.8, 10.2, 1.3, 12.3, 1.2, 13.5, 2.1, 14.6, 1.6, 15.2, 2.2, 17.2, 1.8, 18.3, 1.6, 21.6, 0.9, 20.9, 5.9, 19.1, 6.7, 17.6, 7.2, 16.5, 7.9, 15.1, 8.8, 12.4, 10.9, 11.4, 11.6, 8.9, 9.4, 6.9, 9.9, 4.4, 8.4, 2.4, 9.9, 0.6, 13.9, 2.1, 14.6, 3.9, 13.1, 5.4, 15.9, 7.4, 17.9, 9.3, 19.1, 10.4, 16.9, 13.9, 15.9, 15.4, 16.8, 17.4, 14.6, 19.4, 16.1, 21.3, 13.9, 20.4, 18.9, 18.6, 20.4, 16.3, 20.9, 13.9, 22.4, 11.6, 21.4, 9.4, 23.4, 7.1, 21.6, 5.2, 23.1, 3.1, 24.4, 1.9, 23.1, 0.6, 26.4, 1.9, 28.2, 2.9, 27.4, 3.6, 28.9, 5.6, 29.1, 7.1, 27.1, 8.6, 28.4, 10.1, 26.9, 11.9, 27.6, 12.6, 28.9, 13.6, 25.9, 14.4, 28.3, 15.1, 27.4, 15.6, 25.2, 18.9, 27.1, 19.6, 26.4, 20.1, 27.6, 20.9, 28.4, 21.4, 28.9]

interface Box { x0: number; x1: number; y0: number; y1: number }

const txt = { fontFamily: font, fontSize: 9, fill: ink }

const Dendro = ({ tree, xOf, y }: { tree: Node; xOf: (c: number) => number; y: (h: number) => number }) => {
  const parts: string[] = []
  const walk = (n: Node): [number, number] => {
    if (typeof n === 'number') return [xOf(n), 0]
    const [a, ah] = walk(n[1])
    const [b, bh] = walk(n[2])
    parts.push(`M${a},${y(ah)}V${y(n[0])}H${b}V${y(bh)}`)
    return [(a + b) / 2, n[0]]
  }
  walk(tree)
  return <path d={parts.join('')} fill="none" stroke="#5f5f5f" strokeWidth={0.8} />
}

const Heatmap = ({ box, samples, base, cells, tree, ticks, barX, barW, barTicksY, zLabelX }: {
  box: Box; samples: string[]; base: number[]; cells: number[][][]; tree: Node; ticks: number[]; barX: number; barW: number
  barTicksY: (v: number) => number; zLabelX: number
}) => {
  const x = scaleBand<number>().domain(range(samples.length)).range([box.x0, box.x1])
  const y = scaleBand<number>().domain(range(ROWS)).range([box.y0, box.y1])
  const dy = scaleLinear().domain([0, 130]).range([box.y0, 20])
  const barY = scaleBand<number>().domain(range(levels.length)).range([63.3, 185.7])
  // columns overlap by a pixel so no seam shows between them
  const colW = (c: number) => x.bandwidth() + (c < samples.length - 1 ? 1 : 0)
  return (
    <g>
      <Dendro tree={tree} xOf={(c) => (x(c) ?? 0) + x.bandwidth() / 2} y={dy} />
      {samples.map((s, c) => (
        <g key={s}>
          <rect x={x(c)} y={box.y0} width={colW(c)} height={box.y1 - box.y0} fill={levels[base[c]]} />
          {cells[c].map(([r, n, l], i) => (
            <rect key={i} x={x(c)} y={y(r)} width={colW(c)} height={y.bandwidth() * n} fill={levels[l]} />
          ))}
          <text
            transform={`translate(${(x(c) ?? 0) + x.bandwidth() / 2 + 3},${box.y1 + 5}) rotate(-90)`}
            textAnchor="end"
            {...txt}
          >
            {s}
          </text>
        </g>
      ))}
      {levels.map((c, i) => (
        <rect key={c} x={barX} y={barY(levels.length - 1 - i)} width={barW} height={barY.bandwidth() + 0.3} fill={c} />
      ))}
      {ticks.map((t) => (
        <g key={t}>
          <line x1={barX + barW} x2={barX + barW + 3} y1={barTicksY(t)} y2={barTicksY(t)} stroke={axisGrey} strokeWidth={0.6} />
          <text x={barX + barW + 6.5} y={barTicksY(t) + 3.2} {...txt}>{t < 0 ? `−${-t}` : t}</text>
        </g>
      ))}
      <text x={zLabelX} y={197} {...txt}><tspan fontStyle="italic">z</tspan>-score</text>
    </g>
  )
}

const Coverage = ({ values, x, bottom, px, mant, exp, lowTick, highTick }: {
  values: number[]; x: (v: number) => number; bottom: number; px: number; mant: [string, string, string]; exp: [string, string, string]; lowTick: number; highTick: number
}) => {
  const y = scaleLinear().domain([0, 1]).range([bottom, bottom - px])
  const pts = [...values, values[values.length - 1]].map((v, i) => ({ i, v }))
  const d = area<{ i: number; v: number }>().x((p) => x(Math.min(p.i, values.length - 0.15))).y0(bottom).y1((p) => y(p.v)).curve(curveStepAfter)(pts) ?? ''
  const x0 = x(0) - 0.5
  return (
    <g>
      <path d={d} fill="#c9c9c9" />
      <path d={`M${x0},${y(highTick)}V${bottom}`} stroke={axisGrey} strokeWidth={0.7} fill="none" />
      {[highTick, lowTick, 0].map((t, i) => (
        <g key={t}>
          <line x1={x0 - 3} x2={x0} y1={y(t)} y2={y(t)} stroke={axisGrey} strokeWidth={0.7} />
          <text x={x0 - 6} y={y(t) + 3.2} textAnchor="end" {...txt}>
            {t === 0 ? '0' : <>{mant[i]} × 10<tspan fontSize={6.5} dy={-3}>{exp[i]}</tspan></>}
          </text>
        </g>
      ))}
    </g>
  )
}

const GeneTrack = ({ x, genes, color, ticks, chr, chrX, chrY, box }: {
  x: (v: number) => number; genes: number[][]; color: string; ticks: [number, string][]; chr: string; chrX: number; chrY: number; box: [number, number]
}) => (
  <g>
    {genes.map(([a, b]) => (
      <rect key={a} x={x(a)} y={465.3} width={x(b) - x(a)} height={14} fill={color} fillOpacity={b - a < 0.3 ? 0.6 : 1} />
    ))}
    <rect x={box[0]} y={481} width={box[1] - box[0]} height={19.7} fill="white" stroke="#8f8f8f" strokeWidth={0.8} />
    {ticks.map(([v, l]) => (
      <g key={l}>
        <line x1={x(v)} x2={x(v)} y1={500.7} y2={503} stroke={axisGrey} strokeWidth={0.7} />
        <text x={x(v)} y={514} textAnchor="middle" {...txt}>{l}</text>
      </g>
    ))}
    <text x={chrX} y={chrY} textAnchor="middle" {...txt}>{chr}</text>
  </g>
)

const colour = scaleSequential(interpolateYlOrRd).domain([0.5, 2.0])

const ContactMap = ({ id, x0, x1, y0, y1, mbX, mbY, barX, triples, dark, mid, light, faint }: {
  id: string; x0: number; x1: number; y0: number; y1: number; mbX: number; mbY: number; barX: number
  triples: number[]; dark: number[]; mid: number[]; light: number[]; faint: number[]
}) => {
  const x = scaleLinear().domain([0, mbX]).range([x0, x1])
  const y = scaleLinear().domain([0, mbY]).range([y0, y1])
  const bar = scaleLinear().domain([0.5, 2.0]).range([y1, y0])
  const dots: [number, number, number][] = []
  const pairs = (arr: number[], v: number) => {
    for (let i = 0; i + 1 < arr.length; i += 2) dots.push([arr[i], arr[i + 1], v])
  }
  pairs(faint, 0.68)
  pairs(light, 0.78)
  pairs(mid, 0.92)
  pairs(dark, 1.15)
  for (let i = 0; i + 2 < triples.length; i += 3) dots.push([triples[i], triples[i + 1], triples[i + 2]])
  return (
    <g>
      <defs>
        <linearGradient id={id} x1="0" x2="0" y1="1" y2="0">
          {range(0, 1.01, 0.1).map((t) => (
            <stop key={t} offset={t} stopColor={interpolateYlOrRd(t)} />
          ))}
        </linearGradient>
      </defs>
      <rect x={x0} y={y0} width={x1 - x0} height={y1 - y0} fill={colour(0.5)} />
      {dots.map(([a, b, v], i) => (
        <rect key={i} x={x(a)} y={y(b)} width={1.25} height={1.25} fill={colour(v)} />
      ))}
      <rect x={x0} y={y0} width={x1 - x0} height={y1 - y0} fill="none" stroke="#b4b095" strokeWidth={0.8} />
      {contactXTicks.map((t) => (
        <g key={t}>
          <line x1={x(t)} x2={x(t)} y1={y1} y2={y1 + 3} stroke={axisGrey} strokeWidth={0.7} />
          <text x={x(t)} y={y1 + 13} textAnchor="middle" {...txt}>{t === 0 ? '0' : t.toFixed(2)}</text>
        </g>
      ))}
      {contactYTicks.map((t) => (
        <g key={t}>
          <line x1={x0 - 3} x2={x0} y1={y(t)} y2={y(t)} stroke={axisGrey} strokeWidth={0.7} />
          <text x={x0 - 5} y={y(t) + 3.2} textAnchor="end" {...txt}>{t === 0 ? '0' : t.toFixed(2)}</text>
        </g>
      ))}
      <rect x={barX} y={y0} width={6} height={y1 - y0} fill={`url(#${id})`} />
      {contactBarTicks.map((t) => (
        <g key={t}>
          <line x1={barX + 6} x2={barX + 8.5} y1={bar(t)} y2={bar(t)} stroke={axisGrey} strokeWidth={0.6} />
          <text x={barX + 12.5} y={bar(t) + 3.2} {...txt}>{t.toFixed(1)}</text>
        </g>
      ))}
      <text x={barX - 0.5} y={807} {...txt}>Contact</text>
      <text x={barX - 0.5} y={816.5} {...txt}>frequency</text>
    </g>
  )
}

const App = () => {
  const xC = scaleLinear().domain([0, 21.85]).range([116.8, 312])
  const xD = scaleLinear().domain([0, 30]).range([482.7, 677.5])
  const zA = scaleLinear().domain([1, -3]).range([77, 171.7])
  const zB = scaleLinear().domain([3, -3]).range([70.7, 181.7])

  return (
    <svg width={704} height={824} style={{ position: 'absolute', left: 0, top: 0, background: 'white' }}>
      <g fontFamily={font} fontWeight="bold" fontSize={10} fill="#000">
        <text x={0} y={10}>a</text>
        <text x={360} y={10}>b</text>
        <text x={0} y={381}>c</text>
        <text x={360} y={381}>d</text>
        <text x={0} y={540}>e</text>
        <text x={360} y={540}>f</text>
      </g>

      <text x={174} y={14} textAnchor="middle" {...txt}>
        <tspan fontStyle="italic">A. arenosa</tspan> subgenome cluster 2 (<tspan fontStyle="italic">A. arenosa</tspan> homeologue)
      </text>
      <text x={538} y={14} textAnchor="middle" {...txt}>
        <tspan fontStyle="italic">A. arenosa</tspan> subgenome cluster 2 (<tspan fontStyle="italic">A. thaliana</tspan> homeologue)
      </text>

      <Heatmap box={{ x0: 27.5, x1: 308, y0: 63.3, y1: 313.3 }} samples={samplesA} base={baseA} cells={heatA} tree={dendA} ticks={ticksA} barX={312.3} barW={7.7} barTicksY={zA} zLabelX={312} />
      <Heatmap box={{ x0: 391, x1: 672, y0: 63.3, y1: 315 }} samples={samplesB} base={baseB} cells={heatB} tree={dendB} ticks={ticksB} barX={675.7} barW={9.3} barTicksY={zB} zLabelX={675} />

      <g textAnchor="middle">
        <text x={53} y={395} {...txt}>ASS3</text>
        <text x={53} y={407} {...txt}>coverage</text>
        <text x={53} y={419} {...txt}>(reference)</text>
        <text x={53} y={436} {...txt}>AS530</text>
        <text x={53} y={448} {...txt}>coverage</text>
        <text x={53} y={486} {...txt}>Cluster 2</text>
        <text x={53} y={498} {...txt}>gene locations</text>
        <text x={420} y={391} {...txt}>ASS3</text>
        <text x={420} y={403} {...txt}>coverage</text>
        <text x={420} y={415} {...txt}>(reference)</text>
        <text x={420} y={432} {...txt}>AS530</text>
        <text x={420} y={444} {...txt}>coverage</text>
        <text x={418} y={482} {...txt}>Cluster 2</text>
        <text x={418} y={494} {...txt}>gene locations</text>
      </g>

      <Coverage values={coverageRefC} x={xC} bottom={416} px={26.7} mant={['1', '5', '']} exp={['6', '5', '']} lowTick={0.5} highTick={1} />
      <Coverage values={coverage530C} x={xC} bottom={461.3} px={13.3} mant={['2', '1', '']} exp={['5', '5', '']} lowTick={1} highTick={2} />
      <GeneTrack x={xC} genes={genesC} color="#7b2285" ticks={mbTicksC} chr="Chr6" chrX={100.5} chrY={495} box={[117.3, 312.7]} />

      <Coverage values={coverageRefD} x={xD} bottom={416} px={26.7} mant={['1', '5', '']} exp={['6', '5', '']} lowTick={0.5} highTick={1} />
      <Coverage values={coverage530D} x={xD} bottom={461} px={13.3} mant={['2', '1', '']} exp={['5', '5', '']} lowTick={1} highTick={2} />
      <GeneTrack x={xD} genes={genesD} color="#2b6618" ticks={mbTicksD} chr="Chr1" chrX={465} chrY={492.5} box={[482.3, 677.3]} />

      <text x={174} y={551} textAnchor="middle" {...txt}>ASS3 (reference)</text>
      <text x={528.3} y={551} textAnchor="middle" {...txt}>AS530</text>
      <ContactMap id="barE" x0={51} x1={287.7} y0={557.3} y1={794.3} mbX={21.85} mbY={29.8} barX={292.3} triples={diagE} dark={speckDarkE} mid={speckMidE} light={speckLightE} faint={speckFaintE} />
      <ContactMap id="barF" x0={410.7} x1={646} y0={557.3} y1={792.3} mbX={21.82} mbY={29.82} barX={650.3} triples={diagF} dark={speckDarkF} mid={speckMidF} light={speckLightF} faint={speckFaintF} />
      <text x={169} y={822} textAnchor="middle" {...txt}>Chr6 (Mb)</text>
      <text x={523} y={822} textAnchor="middle" {...txt}>Chr6 (Mb)</text>
      <text transform="translate(7.5,675.7) rotate(-90)" textAnchor="middle" {...txt}>Chr1 (Mb)</text>
      <text transform="translate(367,675.7) rotate(-90)" textAnchor="middle" {...txt}>Chr1 (Mb)</text>
    </svg>
  )
}

export default App
